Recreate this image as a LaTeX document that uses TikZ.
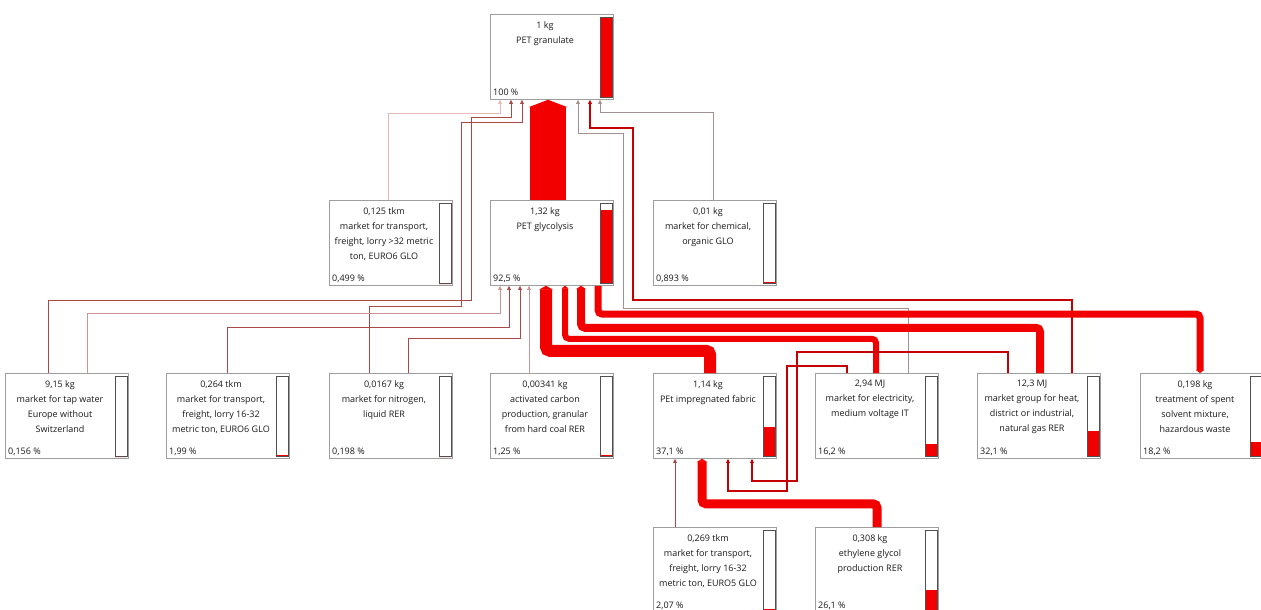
\documentclass[tikz,border=0pt]{standalone}
\usepackage{fontspec}
\setmainfont{Open Sans}
\usepackage{tikz}
\usetikzlibrary{arrows.meta,calc}
\definecolor{ink}{HTML}{1A1A1A}
\definecolor{fred}{HTML}{F20000}
\definecolor{dred}{HTML}{C40000}
\definecolor{wine}{HTML}{A84848}
\definecolor{rose}{HTML}{CC9494}
\definecolor{pink}{HTML}{E6B8B8}
\definecolor{ash}{HTML}{A39090}
\definecolor{boxline}{HTML}{9E9E9E}
\definecolor{barline}{HTML}{505050}
\tikzset{
  proc/.style={draw=boxline, fill=white, line width=.8pt, minimum width=123pt, minimum height=85pt, anchor=north west, inner sep=0pt},
  proctxt/.style={anchor=north, align=center, inner sep=0pt, font=\fontsize{9}{15}\selectfont, text=ink},
  procpct/.style={anchor=base west, inner sep=0pt, font=\fontsize{9}{10}\selectfont, text=ink},
  meter/.style={draw=barline, line width=.8pt, minimum width=12pt, minimum height=80pt, anchor=north west, inner sep=0pt},
  thinflow/.style={line width=.8pt, -{Triangle[length=4pt,width=3.6pt]}},
  bigflow/.style={line width=#1, draw=fred, rounded corners=4pt, -{Triangle[length=2pt 0.15,width=1pt 1.05]}}
}
% name, x, y, text, share, bar fill
\newcommand{\procbox}[6]{%
  \node[proc] (#1) at (#2,#3) {};
  \node[proctxt] (#1-txt) at ($(#1.north west)+(55,7)$) {#4};
  \node[procpct] (#1-pct) at ($(#1.south west)+(3,-4)$) {#5};
  \fill[fred] ($(#1.south east)+(-14,-2)$) rectangle ($(#1.south east)+(-2,-2-#6*80)$);
  \node[meter] (#1-bar) at ($(#1.north east)+(-14,3)$) {};
}

\begin{document}
\begin{tikzpicture}[x=1pt,y=-1pt]
  \clip (0,0) rectangle (1261,610);
  \fill[white] (0,0) rectangle (1261,610);

  \procbox{gran}{490}{14}{1 kg\\PET granulate}{100 \%}{1}
  \procbox{trans32}{329}{200}{0,125 tkm\\market for transport,\\freight, lorry >32 metric\\ton, EURO6 GLO}{0,499 \%}{0}
  \procbox{glyc}{490}{200}{1,32 kg\\PET glycolysis}{92,5 \%}{.925}
  \procbox{chem}{653}{200}{0,01 kg\\market for chemical,\\organic GLO}{0,893 \%}{.02}

  \procbox{water}{5}{373}{9,15 kg\\market for tap water\\Europe without\\Switzerland}{0,156 \%}{0}
  \procbox{trans16}{166}{373}{0,264 tkm\\market for transport,\\freight, lorry 16-32\\metric ton, EURO6 GLO}{1,99 \%}{.02}
  \procbox{nitro}{329}{373}{0,0167 kg\\market for nitrogen,\\liquid RER}{0,198 \%}{0}
  \procbox{carbon}{490}{373}{0,00341 kg\\activated carbon\\production, granular\\from hard coal RER}{1,25 \%}{.02}
  \procbox{fabric}{653}{373}{1,14 kg\\PEt impregnated fabric}{37,1 \%}{.371}
  \procbox{elec}{815}{373}{2,94 MJ\\market for electricity,\\medium voltage IT}{16,2 \%}{.162}
  \procbox{heat}{977}{373}{12,3 MJ\\market group for heat,\\district or industrial,\\natural gas RER}{32,1 \%}{.321}
  \procbox{solvent}{1140}{373}{0,198 kg\\treatment of spent\\solvent mixture,\\hazardous waste}{18,2 \%}{.182}

  \procbox{trans5}{653}{527}{0,269 tkm\\market for transport,\\freight, lorry 16-32\\metric ton, EURO5 GLO}{2,07 \%}{.02}
  \procbox{eg}{815}{527}{0,308 kg\\ethylene glycol\\production RER}{26,1 \%}{.261}

  % into PET granulate
  \draw[thinflow,pink] ($(trans32.north west)+(59,0)$) |- ($(gran.south west)+(10,14)$) -- ($(gran.south west)+(10,0)$);
  \draw[thinflow,wine] ($(water.north west)+(43,0)$) -- ++(0,-73) -| ($(gran.south west)+(-19,18)$) -| ($(gran.south west)+(21,0)$);
  \draw[thinflow,wine] ($(nitro.north west)+(40,0)$) -- ++(0,-67) -| ($(gran.south west)+(-29,23)$) -| ($(gran.south west)+(32,0)$);
  \draw[thinflow,ash] ($(chem.north west)+(60,0)$) |- ($(gran.south west)+(110,13)$) -- ($(gran.south west)+(110,0)$);
  \draw[thinflow,ash] ($(elec.north west)+(93,0)$) -- ++(0,-65) -| ($(gran.south west)+(133,34)$) -| ($(gran.south west)+(88,0)$);
  \draw[thinflow,dred,line width=1.8pt] ($(heat.north west)+(95,0)$) -- ++(0,-73) -| ($(gran.south west)+(143,28)$) -| ($(gran.south west)+(100,0)$);
  \draw[bigflow=36pt] ($(glyc.north west)+(58,0)$) -- ($(gran.south west)+(58,0)$);

  % into PET glycolysis
  \draw[thinflow,rose] ($(water.north west)+(82,0)$) |- ($(glyc.south west)+(10,28)$) -- ($(glyc.south west)+(10,0)$);
  \draw[thinflow,wine] ($(trans16.north west)+(61,0)$) |- ($(glyc.south west)+(19,42)$) -- ($(glyc.south west)+(19,0)$);
  \draw[thinflow,wine] ($(nitro.north west)+(79,0)$) |- ($(glyc.south west)+(30,53)$) -- ($(glyc.south west)+(30,0)$);
  \draw[thinflow,rose] ($(carbon.north west)+(39,0)$) -- ($(glyc.south west)+(39,0)$);
  \draw[bigflow=12pt] ($(fabric.north west)+(57,0)$) |- ($(glyc.south west)+(56,65)$) -- ($(glyc.south west)+(56,0)$);
  \draw[bigflow=6pt] ($(elec.north west)+(61,0)$) |- ($(glyc.south west)+(75,53)$) -- ($(glyc.south west)+(75,0)$);
  \draw[bigflow=8pt] ($(heat.north west)+(63,0)$) |- ($(glyc.south west)+(91,42)$) -- ($(glyc.south west)+(91,0)$);
  \draw[bigflow=7pt] ($(glyc.south west)+(108,0)$) |- ($(solvent.north west)+(60,-59)$) -- ($(solvent.north west)+(60,0)$);

  % into PEt impregnated fabric
  \draw[thinflow,wine] ($(trans5.north west)+(22,0)$) -- ($(fabric.south west)+(22,0)$);
  \draw[bigflow=9pt] ($(eg.north west)+(62,0)$) |- ($(fabric.south west)+(49,45)$) -- ($(fabric.south west)+(49,0)$);
  \draw[thinflow,dred,line width=1.5pt] ($(elec.north west)+(32,0)$) -- ++(0,-7) -| ($(fabric.south west)+(134,32)$) -| ($(fabric.south west)+(75,0)$);
  \draw[thinflow,dred,line width=1.5pt] ($(heat.north west)+(31,0)$) -- ++(0,-21) -| ($(fabric.south west)+(144,22)$) -| ($(fabric.south west)+(99,0)$);
\end{tikzpicture}
\end{document}
